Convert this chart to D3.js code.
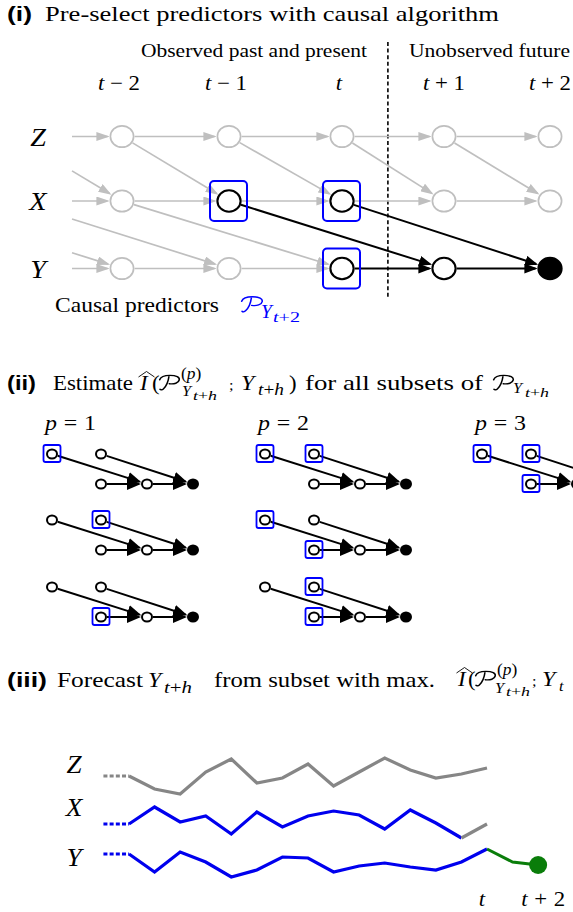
<!DOCTYPE html>
<html><head><meta charset="utf-8">
<script src="https://cdn.jsdelivr.net/npm/d3@7"></script>
<style>html,body{margin:0;padding:0;background:#fff}svg{display:block}</style>
</head><body>
<svg id="c" width="573" height="912"></svg>
<script>
// ================= DATA =================
const panelLabels = ["(i)", "(ii)", "(iii)"];
const variables = ["Z", "X", "Y"];
const timeSteps = [-2, -1, 0, 1, 2];
const timeOps = ["−", "−", "", "+", "+"];
const timeNums = ["2", "1", "", "1", "2"];
// gray (not selected) causal links: [fromVar, fromLag, toVar, toLag]
const grayEdges = [
  ["Z",-3,"Z",-2],["Z",-2,"Z",-1],["Z",-1,"Z",0],["Z",0,"Z",1],["Z",1,"Z",2],
  ["X",-3,"X",-2],["X",-2,"X",-1],["X",-1,"X",0],["X",0,"X",1],["X",1,"X",2],
  ["Y",-3,"Y",-2],["Y",-2,"Y",-1],["Y",-1,"Y",0],
  ["Z",-3,"X",-2],["Z",-2,"X",-1],["Z",-1,"X",0],["Z",0,"X",1],["Z",1,"X",2],
  ["X",-4,"Y",-2],["X",-3,"Y",-1],["X",-2,"Y",0]
];
// links leading to the target
const causalEdges = [["X",-1,"Y",1],["X",0,"Y",2],["Y",0,"Y",1],["Y",1,"Y",2]];
const causalPredictors = [["X",-1],["X",0],["Y",0]];
const pathNodes = [["X",-1],["X",0],["Y",0],["Y",1],["Y",2]];
const targetNode = ["Y",2];
// subsets of the causal predictors, by size p
const subsetSizes = [1, 2, 3];
const subsetsByP = {
  1: [[["X",-1]], [["X",0]], [["Y",0]]],
  2: [[["X",-1],["X",0]], [["X",-1],["Y",0]], [["X",0],["Y",0]]],
  3: [[["X",-1],["X",0],["Y",0]]]
};
// time series (values relative to each series' start level)
const seriesZ = [0,-13,-18,4,17,-7,-2,12,-10,4,18,6,-2,2,8];
const seriesX = [0,17,2,8,-10,12,-3,8,13,9,-5,14,1,-14,0];
const seriesY = [0,-18,2,-8,-23,-16,-3,-4,-18,-12,-9,-13,-16,-8,5];
const forecastY = [5,-8,-11];          // indices 14..16 (t .. t+2)
const xObservedUntil = 13;              // X series known (blue) up to this index

// ================= SETUP =================
const svg = d3.select("#c");
const SX = 1.087;
const serif = "Liberation Serif";
const sans = "Liberation Sans";
const BLUE = "#0000ff", GRAY = "#bfbfbf";

const defs = svg.append("defs");
function marker(id, L, W, fill){
  defs.append("marker").attr("id", id).attr("viewBox", `0 0 ${L} ${W}`)
    .attr("refX", L - 2).attr("refY", W/2).attr("markerWidth", L).attr("markerHeight", W)
    .attr("markerUnits", "userSpaceOnUse").attr("orient", "auto")
    .append("path").attr("d", `M0,0L${L},${W/2}L0,${W}Z`).attr("fill", fill);
}
marker("ag", 13, 9, GRAY);
marker("ab", 13, 10, "#000");
marker("as", 14, 12, "#000");

const calPath = "M0.6,-10.2C1.6,-13.4 5,-14.6 10,-14.6C16,-14.6 19.2,-12.6 18.6,-10C18,-7 14,-5.6 9.4,-6.3" +
                "M9.2,-13.9C8.6,-9 7,-4 4,-1.1C3,-0.1 1.6,0.2 0.9,-0.7";

// text piece: parts = [[string, italic], ...], stretched horizontally by SX
function piece(x, y, parts, size, o = {}){
  const g = svg.append("g").attr("transform", `translate(${x},${y}) scale(${SX},1)`);
  const t = g.append("text").attr("font-family", o.font || serif).attr("font-size", size)
    .attr("fill", o.col || "#000").attr("font-weight", o.bold ? "bold" : null);
  parts.forEach(([s, it]) => t.append("tspan").text(s).attr("font-style", it ? "italic" : null));
  if (o.len) t.attr("textLength", o.len / SX).attr("lengthAdjust", o.adj || "spacingAndGlyphs");
  if (o.anchor) t.attr("text-anchor", o.anchor);
  return g;
}
function calP(x, y, size, col = "#000"){
  const k = size / 21;
  svg.append("path").attr("d", calPath).attr("transform", `translate(${x},${y}) scale(${k*SX},${k})`)
    .attr("fill", "none").attr("stroke", col).attr("stroke-width", 1.4 / k).attr("stroke-linecap", "round");
}
function hat(x1, x2, yb, yp){
  svg.append("path").attr("d", `M${x1},${yb}L${(x1+x2)/2},${yp}L${x2},${yb}`)
    .attr("fill", "none").attr("stroke", "#000").attr("stroke-width", 0.9);
}
const TPH = [["t",1],["+",0],["h",1]];
const TP2 = [["t",1],["+",0],["2",0]];

// ================= PANEL (i) =================
piece(7, 21, [[panelLabels[0], 0]], 20, {font: sans, bold: true, len: 25});
piece(45, 21, [["Pre-select predictors with causal algorithm", 0]], 22, {len: 454});
piece(141, 57, [["Observed past and present", 0]], 19, {len: 226});
piece(409, 57, [["Unobserved future", 0]], 19, {len: 161});

const colX = d3.scaleLinear().domain(timeSteps).range([122, 229, 342, 444, 550]);
const rowY = d3.scaleOrdinal().domain(variables).range([136.5, 201, 268.5]);
const RX = 11.6, RY = 10.7;

timeSteps.forEach((t, i) => {
  const parts = timeOps[i] ? [["t",1],[" " + timeOps[i] + " ",0],[timeNums[i],0]] : [["t",1]];
  piece(colX(t) - (t < 1 ? 3 : 0), 90, parts, 21, {anchor: "middle", len: timeOps[i] ? 42 : null, adj: "spacing"});
});
variables.forEach(v => piece(38, rowY(v) + 9, [[v, 1]], 26, {anchor: "middle"}));

// dashed separator between present and future
svg.append("line").attr("x1", colX(0.45)).attr("x2", colX(0.45)).attr("y1", 42).attr("y2", 299)
  .attr("stroke", "#000").attr("stroke-width", 1.6).attr("stroke-dasharray", "4,2.6");

function edgeCoords(e, cxF, cyF, rx, ry, stubX){
  const x1 = cxF(e[1]), y1 = cyF(e[0]), x2 = cxF(e[3]), y2 = cyF(e[2]);
  const dx = x2 - x1, dy = y2 - y1, L = Math.hypot(dx, dy), ux = dx/L, uy = dy/L;
  const r = 1/Math.sqrt((ux/rx)**2 + (uy/ry)**2);
  let sx, sy;
  if (stubX !== undefined && x1 < stubX){ const f = (stubX - x1)/dx; sx = stubX; sy = y1 + f*dy; }
  else { sx = x1 + ux*r; sy = y1 + uy*r; }
  return {x1: sx, y1: sy, x2: x2 - ux*(r + 2), y2: y2 - uy*(r + 2)};
}
const gEdges = svg.append("g");
grayEdges.forEach(e => {
  const c = edgeCoords(e, colX, rowY, RX + 1, RY + 1, 72);
  gEdges.append("line").attr("x1", c.x1).attr("y1", c.y1).attr("x2", c.x2).attr("y2", c.y2)
    .attr("stroke", GRAY).attr("stroke-width", 1.7).attr("marker-end", "url(#ag)");
});
causalEdges.forEach(e => {
  const c = edgeCoords(e, colX, rowY, RX + 1, RY + 1);
  gEdges.append("line").attr("x1", c.x1).attr("y1", c.y1).attr("x2", c.x2).attr("y2", c.y2)
    .attr("stroke", "#000").attr("stroke-width", 2).attr("marker-end", "url(#ab)");
});
causalPredictors.forEach(([v, t]) => {
  svg.append("rect").attr("x", colX(t) - 19).attr("y", rowY(v) - 20).attr("width", 37).attr("height", 40)
    .attr("rx", 4).attr("fill", "none").attr("stroke", BLUE).attr("stroke-width", 2);
});
const isIn = (arr, v, t) => arr.some(d => d[0] === v && d[1] === t);
variables.forEach(v => timeSteps.forEach(t => {
  const onPath = isIn(pathNodes, v, t), isTarget = v === targetNode[0] && t === targetNode[1];
  svg.append("ellipse").attr("cx", colX(t)).attr("cy", rowY(v)).attr("rx", RX).attr("ry", RY)
    .attr("fill", isTarget ? "#000" : "#fff").attr("stroke", onPath ? "#000" : GRAY)
    .attr("stroke-width", onPath ? 2.1 : 1.7);
}));
piece(55, 312, [["Causal predictors", 0]], 21, {len: 164});
calP(241, 312, 22, BLUE);
piece(261, 318, [["Y", 1]], 18, {col: BLUE});
piece(273, 321.5, TP2, 14, {col: BLUE, len: 27});

// ================= PANEL (ii) =================
piece(7, 390, [[panelLabels[1], 0]], 20, {font: sans, bold: true, len: 29});
piece(53, 390, [["Estimate", 0]], 21, {len: 80});
piece(140, 390, [["I", 1]], 21);
hat(138.5, 154.5, 377, 371.5);
piece(152, 390, [["(", 0]], 21);
calP(159, 390, 21);
piece(181, 378.5, [["(", 0], ["p", 1], [")", 0]], 16);
piece(182, 396, [["Y", 1]], 15);
piece(193, 399.5, TPH, 13, {len: 24});
piece(229, 390, [[";", 0]], 15);
piece(241, 390, [["Y", 1]], 22);
piece(258, 395, TPH, 16, {len: 26});
piece(289, 390, [[")", 0]], 21);
piece(305, 390, [["for all subsets of", 0]], 21, {len: 178});
calP(493, 390, 21);
piece(513, 393, [["Y", 1]], 15);
piece(525, 397, TPH, 12, {len: 24});

const pCol = d3.scaleOrdinal().domain(subsetSizes).range([52, 265, 482]);
const subsetRow = d3.scaleOrdinal().domain([0, 1, 2]).range([454, 520, 587]);
const miniX = d3.scaleLinear().domain([-1, 0, 1, 2]).range([0, 49, 95, 141]);
const miniY = d3.scaleOrdinal().domain(["X", "Y"]).range([0, 30]);

subsetSizes.forEach(p => {
  piece(pCol(p) - 7, 430, [["p", 1], [" = ", 0], [String(p), 0]], 22, {len: 51, adj: "spacing"});
  subsetsByP[p].forEach((sub, r) => {
    const ox = pCol(p), oy = subsetRow(r);
    const gx = t => ox + miniX(t), gy = v => oy + miniY(v);
    causalEdges.forEach(e => {
      const c = edgeCoords(e, gx, gy, 6, 5.5);
      svg.append("line").attr("x1", c.x1).attr("y1", c.y1).attr("x2", c.x2).attr("y2", c.y2)
        .attr("stroke", "#000").attr("stroke-width", 2).attr("marker-end", "url(#as)");
    });
    sub.forEach(([v, t]) => svg.append("rect").attr("x", gx(t) - 8.5).attr("y", gy(v) - 9)
      .attr("width", 17).attr("height", 17).attr("rx", 2).attr("fill", "none")
      .attr("stroke", BLUE).attr("stroke-width", 1.8));
    pathNodes.forEach(([v, t]) => {
      const tgt = v === targetNode[0] && t === targetNode[1];
      svg.append("ellipse").attr("cx", gx(t)).attr("cy", gy(v)).attr("rx", 5).attr("ry", 4.6)
        .attr("fill", tgt ? "#000" : "#fff").attr("stroke", "#000").attr("stroke-width", 2);
    });
  });
});

// ================= PANEL (iii) =================
piece(7, 687, [[panelLabels[2], 0]], 20, {font: sans, bold: true, len: 40});
piece(57, 687, [["Forecast", 0]], 21, {len: 86});
piece(148, 687, [["Y", 1]], 22);
piece(164, 693, TPH, 16, {len: 28});
piece(214, 687, [["from subset with max.", 0]], 21, {len: 221});
piece(458, 686, [["I", 1]], 21);
hat(456.5, 472.5, 673, 667.5);
piece(468, 686, [["(", 0]], 21);
calP(475, 686, 21);
piece(497, 675, [["(", 0], ["p", 1], [")", 0]], 16);
piece(495, 692.5, [["Y", 1]], 15);
piece(506, 696, TPH, 12, {len: 24});
piece(532, 686, [[";", 0]], 15);
piece(542, 686, [["Y", 1]], 22);
piece(559, 691, [["t", 1]], 15);

const idxX = d3.scaleLinear().domain([0, 14]).range([129, 487]);
const rowBase = d3.scaleOrdinal().domain(variables).range([776, 824, 854]);
const vY = d3.scaleLinear().domain([0, 1]).range([0, -1]);
const lineGen = v => d3.line().x(d => idxX(d.i)).y(d => rowBase(v) + vY(d.v));
const pts = arr => arr.map((v, i) => ({i, v}));
const seriesCol = {Z: "#868686", X: "#0000ee", Y: "#0000ee"};
const seriesData = {Z: seriesZ, X: seriesX, Y: seriesY};

variables.forEach(v => {
  svg.append("path").attr("d", lineGen(v)([{i: -1, v: 0}, {i: 0, v: 0}]))
    .attr("fill", "none").attr("stroke", seriesCol[v]).attr("stroke-width", 3.2).attr("stroke-dasharray", "4,2.2");
  const d = pts(seriesData[v]);
  if (v === "X"){
    svg.append("path").attr("d", lineGen(v)(d.slice(0, xObservedUntil + 1))).attr("fill", "none")
      .attr("stroke", seriesCol.X).attr("stroke-width", 3.2);
    svg.append("path").attr("d", lineGen(v)(d.slice(xObservedUntil))).attr("fill", "none")
      .attr("stroke", seriesCol.Z).attr("stroke-width", 3.2);
  } else {
    svg.append("path").attr("d", lineGen(v)(d)).attr("fill", "none")
      .attr("stroke", seriesCol[v]).attr("stroke-width", 3.2);
  }
});
const fc = forecastY.map((v, k) => ({i: 14 + k, v}));
svg.append("path").attr("d", lineGen("Y")(fc)).attr("fill", "none").attr("stroke", "#0a7d0a").attr("stroke-width", 3);
svg.append("circle").attr("cx", idxX(16)).attr("cy", rowBase("Y") + vY(forecastY[2])).attr("r", 9).attr("fill", "#0a7d0a");

const labY = d3.scaleOrdinal().domain(variables).range([773, 816, 866]);
variables.forEach(v => piece(74, labY(v), [[v, 1]], 25, {anchor: "middle"}));
piece(idxX(14) - 5, 906, [["t", 1]], 21, {anchor: "middle"});
piece(idxX(16) + 5, 906, [["t", 1], [" + ", 0], ["2", 0]], 21, {anchor: "middle", len: 44, adj: "spacing"});
</script>
</body></html>
